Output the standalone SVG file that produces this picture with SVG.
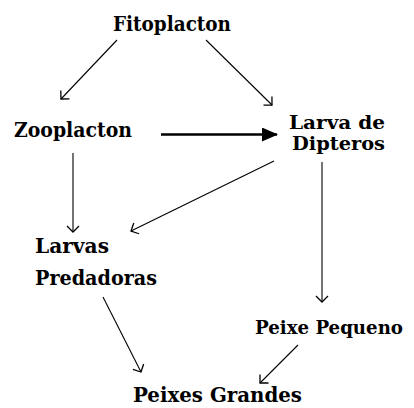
<svg xmlns="http://www.w3.org/2000/svg" width="414" height="408" viewBox="0 0 414 408">
<style>
text{font-family:"DejaVu Serif","Liberation Serif",serif;font-weight:bold;font-size:20.5px;fill:#000}
text.s{font-size:18px}
text.p{font-size:18.8px}
.c{stroke:#000;stroke-width:1.1;fill:none;marker-end:url(#open)}
</style>
<defs>
<marker id="open" markerUnits="userSpaceOnUse" viewBox="-8 -8 10 16" refX="0" refY="0" markerWidth="10" markerHeight="16" orient="auto" overflow="visible">
<path d="M-6,-6 L0,0 L-6,6" fill="none" stroke="#000" stroke-width="1.3"/>
</marker>
<marker id="solid" markerUnits="userSpaceOnUse" viewBox="0 -7 16 14" refX="15" refY="0" markerWidth="16" markerHeight="14" orient="auto">
<path d="M0,-7 L16,0 L0,7 Z" fill="#000"/>
</marker>
</defs>
<rect width="414" height="408" fill="#fff"/>
<g id="connectors">
<line class="c" x1="117" y1="40" x2="61" y2="99"/>
<line class="c" x1="206" y1="40" x2="272" y2="105"/>
<line x1="161" y1="134.5" x2="277" y2="134.5" stroke="#000" stroke-width="2.6" marker-end="url(#solid)"/>
<line class="c" x1="73" y1="153" x2="73" y2="232"/>
<line class="c" x1="274" y1="161" x2="131" y2="231"/>
<line class="c" x1="322" y1="162" x2="322" y2="302"/>
<line class="c" x1="103" y1="297" x2="141" y2="372"/>
<line class="c" x1="298" y1="345" x2="260" y2="383"/>
</g>
<g id="fitoplacton"><text x="113" y="31" textLength="118" lengthAdjust="spacingAndGlyphs">Fitoplacton</text></g>
<g id="zooplacton"><text x="14" y="137" textLength="118" lengthAdjust="spacingAndGlyphs">Zooplacton</text></g>
<g id="larva-dipteros"><text class="s" x="289" y="129" textLength="96" lengthAdjust="spacingAndGlyphs">Larva de</text><text class="s" x="292" y="150" textLength="93" lengthAdjust="spacingAndGlyphs">Dipteros</text></g>
<g id="larvas-predadoras"><text x="35" y="253" textLength="74" lengthAdjust="spacingAndGlyphs">Larvas</text><text x="35" y="285" textLength="122" lengthAdjust="spacingAndGlyphs">Predadoras</text></g>
<g id="peixe-pequeno"><text class="p" x="255" y="334" textLength="148" lengthAdjust="spacingAndGlyphs">Peixe Pequeno</text></g>
<g id="peixes-grandes"><text x="133" y="402" textLength="169" lengthAdjust="spacingAndGlyphs">Peixes Grandes</text></g>
</svg>
